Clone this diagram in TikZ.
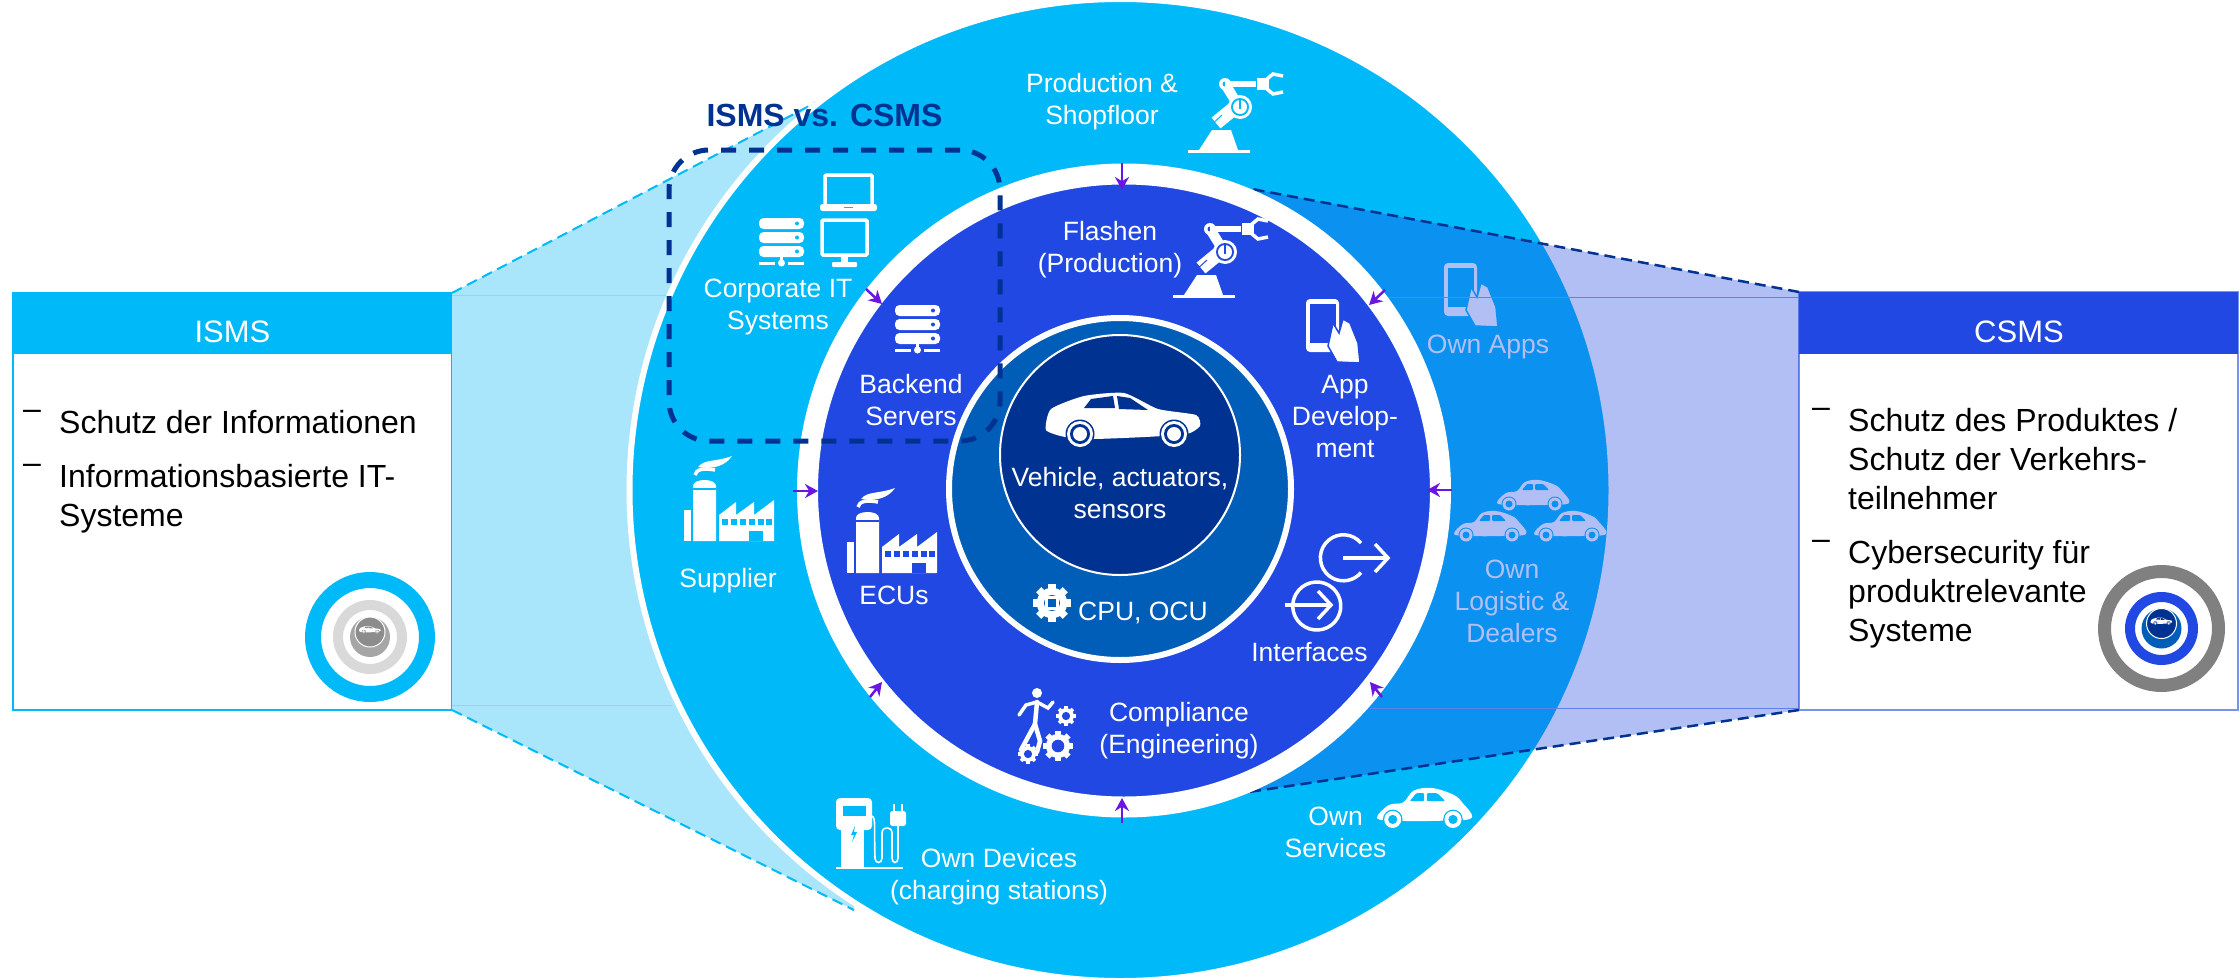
\documentclass[tikz,border=0pt]{standalone}
\usepackage{fontspec}
\setmainfont{Liberation Sans}
\usepackage{xcolor}
\usepackage{tikz}
\usetikzlibrary{arrows.meta}
\usetikzlibrary{shapes}
\definecolor{outerblue}{HTML}{00B9F8}
\definecolor{ringblue}{HTML}{2148E2}
\definecolor{tealblue}{HTML}{005EB8}
\definecolor{darkblue}{HTML}{003391}
\definecolor{wedgeblue}{HTML}{A9E6FB}
\definecolor{arrowpurple}{HTML}{6A16E0}
\tikzstyle{arrow} = [line width=2.5pt,-{Stealth[length=13pt,width=14pt]},color=arrowpurple]
\tikzstyle{ring} = [circle,inner sep=0pt,outer sep=0pt]
\tikzstyle{lbl} = [white,align=center,inner sep=0pt,font=\fontsize{26.5}{32}\selectfont]
\tikzstyle{head} = [white,inner sep=0pt,font=\fontsize{31}{36}\selectfont]
\tikzstyle{bullet} = [black,anchor=north west,align=left,inner sep=0pt,font=\fontsize{32}{39}\selectfont]
\tikzstyle{panel} = [rectangle,inner sep=0pt,outer sep=0pt,anchor=north west]
\tikzset{
  pics/robot/.style={code={
    \fill[white] (0,77) rectangle (62,80);
    \fill[white] (11,77) -- (24,57) -- (43,57) -- (50,77) -- cycle;
    \draw[white,line width=14pt] (28,50) -- (50,32);
    \draw[#1,line width=1pt] (22,53) -- (34,42);
    \draw[white,line width=10pt] (37,11) -- (50,32);
    \fill[white] (37,11) circle (6);
    \fill[#1] (37,11) circle (2.5);
    \draw[white,line width=6pt] (37,11) -- (68,11);
    \fill[white] (52,34) circle (12);
    \fill[#1] (52,34) circle (9);
    \fill[white] (52,34) circle (7);
    \fill[#1] (51,27) rectangle (53,36);
    \fill[white] (69,5) rectangle (78,17);
    \draw[white,line width=3.5pt] (95,3) -- (85,1) -- (79,6) -- (79,16) -- (85,21) -- (95,19);
  }},
  pics/laptop/.style={code={
    \draw[white,line width=3.5pt,rounded corners=1] (5,2) rectangle (52,33);
    \fill[white,rounded corners=2.5] (0,31) rectangle (57,38);
    \fill[#1] (24,33.5) rectangle (33,34.5);
  }},
  pics/monitor/.style={code={
    \draw[white,line width=3.5pt,rounded corners=1] (2,2) rectangle (47,37);
    \fill[white] (21,38) rectangle (28,44);
    \fill[white,rounded corners=1] (12,44) rectangle (37,49);
  }},
  pics/server/.style={code={
    \foreach \y in {0,14,28} {
      \fill[white,rounded corners=4.5] (0,\y) rectangle (45,\y+11);
      \fill[#1] (38,\y+5.5) circle (2);
    }
    \fill[white] (21,39) rectangle (24,46);
    \fill[white] (22.5,45) circle (3.5);
    \fill[white] (0,43.5) rectangle (16,47);
    \fill[white] (29,43.5) rectangle (45,47);
  }},
  pics/factory/.style={code={
    \fill[white] (0,54) rectangle (7,85);
    \fill[white] (9,85) -- (9,30) .. controls (9,22) and (32,22) .. (32,30) -- (32,85) -- cycle;
    \fill[#1] (9,32) rectangle (32,34);
    \draw[white,line width=3.5pt] (11,19) .. controls (12,13) and (20,12) .. (31,14);
    \fill[white] (14,11) .. controls (20,3) and (32,6) .. (48,0) .. controls (42,9) and (30,14) .. (14,11) -- cycle;
    \fill[white] (35,85) -- (35,59) -- (52,46) -- (52,59) -- (70,46) -- (70,59) -- (90,44) -- (90,85) -- cycle;
    \foreach \x in {38,47,56,65,74,82} \fill[#1] (\x,63) rectangle (\x+6,69);
    \fill[#1] (65,75) rectangle (79,85);
  }},
  pics/tablet/.style={code={
    \fill[white,rounded corners=4] (0,0) rectangle (33,53);
    \fill[#1] (3.5,5) rectangle (29.5,44);
    \filldraw[white,draw=#1,line width=1.5pt] (27,24) -- (33,34) -- (37,20) -- (44,24) -- (52,44) -- (54,64) -- (31,63) -- (22,47) -- cycle;
  }},
  pics/beetle/.style={code={
    \fill[white] plot[smooth cycle,tension=0.6] coordinates {(0,23) (9,13) (20,11) (28,2) (42,0) (58,5) (65,11) (72,23) (48,25) (15,25)};
    \fill[#1,rounded corners=1] (25,10) -- (30,4) -- (36,4) -- (36,10) -- cycle;
    \fill[#1,rounded corners=1] (38,4) -- (46,4) -- (52,10) -- (38,10) -- cycle;
    \foreach \x in {12,58} {
      \fill[#1] (\x,24) circle (7.5);
      \fill[white] (\x,24) circle (6.5);
      \fill[#1] (\x,24) circle (3.5);
    }
  }},
  pics/suv/.style={code={
    \fill[white] plot[smooth cycle,tension=0.35] coordinates {(1,37) (6,16) (39,3) (79,0) (113,16) (151,22) (155,33) (142,41) (100,44) (48,46) (20,44)};
    \fill[#1] (39,15) -- (46,6) -- (68,3) -- (70,15) -- cycle;
    \fill[#1] (72,3) -- (85,5) -- (103,17) -- (74,16) -- cycle;
    \foreach \x in {35,129} {
      \fill[#1] (\x,41) circle (14.5);
      \fill[white] (\x,41) circle (13);
      \fill[#1] (\x,41) circle (10);
      \fill[white] (\x,41) circle (7);
    }
  }},
  pics/gearw/.style={code={
    \foreach \a in {0,45,90,135}
      \fill[white,rotate=\a] (-2.5,-13) rectangle (2.5,13);
    \fill[white] (0,0) circle (10.5);
    \fill[#1] (0,0) circle (5.5);
  }},
  pics/station/.style={code={
    \fill[white,rounded corners=4] (0,0) rectangle (36,32);
    \fill[white] (5,20) rectangle (28,69);
    \fill[white] (0,68.5) rectangle (67,70.5);
    \fill[#1] (7,8) rectangle (30,18);
    \fill[#1] (19,28) -- (15,37) -- (18,37) -- (16,44) -- (21,34) -- (18,34) -- cycle;
    \draw[white,line width=1.6pt] (36,18) .. controls (40,20) and (38,30) .. (39,60) .. controls (39,66) and (46,66) .. (46,60) -- (46,35) .. controls (46,28) and (56,28) .. (56,35) -- (56,60) .. controls (56,66) and (62,66) .. (62,60) -- (62,28);
    \fill[white,rounded corners=2.5] (54,13) rectangle (70,28);
    \fill[white] (57,6) rectangle (59,13);
    \fill[white] (65,6) rectangle (67,13);
  }}
}
\begin{document}
\begin{tikzpicture}[x=1pt,y=-1pt]
    \useasboundingbox (0,0) rectangle (2239,980);
    \fill[white] (0,0) rectangle (2239,980);

    % side panels
    \node[panel,draw=outerblue,line width=1.2pt,fill=white,minimum width=439pt,minimum height=417pt] (ismsbox) at (13,293) {};
    \node[panel,fill=outerblue,minimum width=439pt,minimum height=61pt] (ismshead) at (13,293) {};
    \node[head] (ismslabel) at (232.5,332) {ISMS};
    \node[panel,draw=ringblue!60,line width=1.2pt,fill=white,minimum width=439pt,minimum height=418pt] (csmsbox) at (1799,292) {};
    \node[panel,fill=ringblue,minimum width=439pt,minimum height=62pt] (csmshead) at (1799,292) {};
    \node[head] (csmslabel) at (2019,332) {CSMS};

    % ISMS wedge
    \coordinate (ismstop) at (857,81);
    \coordinate (ismsbot) at (854,910);
    \fill[wedgeblue] (ismsbox.north east) -- (ismstop) -- (ismsbot) -- (ismsbox.south east) -- cycle;
    \draw[outerblue,line width=2pt,dashed,dash pattern=on 11pt off 6pt] (ismsbox.north east) -- (ismstop);
    \draw[outerblue,line width=2pt,dashed,dash pattern=on 11pt off 6pt] (ismsbox.south east) -- (ismsbot);
    \draw[outerblue!50,line width=1pt] (452,295) -- (670,295);
    \draw[outerblue!50,line width=1pt] (452,705) -- (672,705);

    % outer ring
    \node[ring,fill=outerblue,draw=white,line width=6pt,minimum size=982pt] (outerring) at (1120.5,490) {};

    \pic at (1188,73) {robot=outerblue};
    \node[lbl] (prodlabel) at (1102,102) {Production \&\\Shopfloor};
    \pic at (820,173) {laptop=outerblue};
    \pic at (820,218) {monitor=outerblue};
    \pic at (759,218) {server=outerblue};
    \node[lbl] (corplabel) at (778,307) {Corporate IT\\Systems};
    \pic at (684,456) {factory=outerblue};
    \node[lbl] (supplabel) at (728,581) {Supplier};
    \pic at (836,798) {station=outerblue};
    \node[lbl] (devlabel) at (999,877) {Own Devices\\(charging stations)};
    \pic[scale=1.31] at (1377,788) {beetle=outerblue};
    \node[lbl] (servlabel) at (1335.5,832) {Own\\Services};
    \pic at (1444,263) {tablet=outerblue};
    \node[lbl] (appslabel) at (1488,347) {Own Apps};
    \pic at (1497,480) {beetle=outerblue};
    \pic at (1454,511) {beetle=outerblue};
    \pic at (1534,511) {beetle=outerblue};
    \node[lbl] (logilabel) at (1512,601) {Own\\Logistic \&\\Dealers};

    % CSMS wedge
    \coordinate (csmstop) at (1252,189);
    \coordinate (csmsbot) at (1242,793);
    \fill[ringblue,opacity=0.35] (csmsbox.north west) -- (csmstop) -- (csmsbot) -- (csmsbox.south west) -- cycle;
    \draw[ringblue!70,line width=1pt] (1799,297) -- (1300,297);
    \draw[ringblue!70,line width=1pt] (1799,708) -- (1370,708);
    \draw[darkblue,line width=2.5pt,dash pattern=on 11pt off 6pt] (csmsbox.north west) -- (csmstop);
    \draw[darkblue,line width=2.5pt,dash pattern=on 11pt off 6pt] (csmsbox.south west) -- (csmsbot);

    % middle ring
    \node[ring,fill=ringblue,draw=white,line width=21pt,minimum size=633pt] (midring) at (1124,490.5) {};

    \pic at (1173,218) {robot=ringblue};
    \node[lbl] (flashlabel) at (1110,250) {Flashen\\(Production)};
    \pic at (895,305) {server=ringblue};
    \node[lbl] (backlabel) at (911,400) {Backend\\Servers};
    \pic at (847,488) {factory=ringblue};
    \node[lbl] (eculabel) at (894,595) {ECUs};
    \pic at (1306,299) {tablet=ringblue};
    \node[lbl] (applabel) at (1345,417) {App\\Develop-\\ment};
    \node[lbl] (iflabel) at (1309.5,652) {Interfaces};
    \node[lbl] (complabel) at (1179,731) {Compliance\\(Engineering)};

    % interfaces
    \draw[white,line width=3.5pt] (1296,594) arc (210:-210:24 and 24);
    \draw[white,line width=3.5pt] (1285,605) -- (1329,605);
    \draw[white,line width=3.5pt] (1318,591) -- (1331,605) -- (1318,619);
    \draw[white,line width=3.5pt] (1361,543) arc (-40:-320:23 and 23);
    \draw[white,line width=3.5pt] (1343,558) -- (1387,558);
    \draw[white,line width=3.5pt] (1375,544) -- (1388,558) -- (1375,572);

    % compliance icon
    \fill[white] (1037,693) circle (5);
    \draw[white,line width=4.5pt,line cap=round] (1037,702) -- (1035,724) -- (1040,741) -- (1037,752);
    \draw[white,line width=4.5pt,line cap=round] (1035,724) -- (1021,750);
    \draw[white,line width=3.5pt,line cap=round] (1019,715) -- (1026,705) -- (1037,702) -- (1048,708) -- (1053,702);
    \pic[scale=0.75] at (1066,716) {gearw=ringblue};
    \pic[scale=1.15] at (1058,746) {gearw=ringblue};
    \pic[scale=0.75] at (1028,754) {gearw=ringblue};

    % inner ring
    \node[ring,fill=tealblue,draw=white,line width=6pt,minimum size=342pt] (innerring) at (1120,489) {};
    \node[ring,fill=darkblue,draw=white,line width=2pt,minimum size=240pt] (corering) at (1120,455) {};
    \pic at (1045,393) {suv=darkblue};
    \node[lbl] (vehlabel) at (1120,493) {Vehicle, actuators,\\sensors};
    \pic[scale=1.45] at (1052,603) {gearw=tealblue};
    \fill[white] (1045,596) rectangle (1059,610);
    \fill[tealblue] (1048,599) rectangle (1056,607);
    \node[lbl] (cpulabel) at (1143,613) {CPU, OCU};

    % dashed frame
    \node[lbl] (frametitle) at (824.5,115) {\fontsize{32}{36}\selectfont\color{darkblue}\bfseries ISMS vs. CSMS};
    \node[rectangle,draw=darkblue,line width=5pt,rounded corners=40pt,dash pattern=on 15pt off 13pt,minimum width=331pt,minimum height=291pt,inner sep=0pt,outer sep=0pt] (frame) at (834.5,295.5) {};

    % purple arrows
    \foreach \n/\tx/\ty/\hx/\hy in {a/1122/163/1122/190,b/866/289/882/304,c/793/491/818/491,d/870/697/882/682,e/1122/823/1122/798,f/1382/697/1370/682,g/1452/490/1427/490,h/1385/290/1369/305}{
      \coordinate (t\n) at (\tx,\ty);
      \coordinate (h\n) at (\hx,\hy);
      \draw[arrow] (t\n) -- (h\n);
    }

    % panel text
    \node[bullet] (isdash1) at (23,410) {--};
    \node[bullet] (istext1) at (59,410) {Schutz der Informationen};
    \node[bullet] (isdash2) at (23,464) {--};
    \node[bullet] (istext2) at (59,464) {Informationsbasierte IT-\\Systeme};
    \node[bullet] (csdash1) at (1812,408) {--};
    \node[bullet] (cstext1) at (1848,408) {Schutz des Produktes /\\Schutz der Verkehrs-\\teilnehmer};
    \node[bullet] (csdash2) at (1812,540) {--};
    \node[bullet] (cstext2) at (1848,540) {Cybersecurity für\\produktrelevante\\Systeme};

    % small targets
    \node[ring,draw=outerblue,line width=16pt,minimum size=114pt] (ismsouter) at (370,637) {};
    \node[ring,draw=black!15,line width=10pt,minimum size=64pt] (ismsmid) at (370,637) {};
    \node[ring,fill=black!35,minimum size=40pt] (ismsin) at (370,637) {};
    \node[ring,fill=black!45,draw=white,line width=1pt,minimum size=30pt] (ismscore) at (370,632) {};
    \pic[scale=0.14] at (359,626) {suv=black!45};
    \node[ring,draw=black!50,line width=13pt,minimum size=114pt] (csmsouter) at (2161.5,628.5) {};
    \node[ring,draw=ringblue,line width=10pt,minimum size=63pt] (csmsmid) at (2161.5,628.5) {};
    \node[ring,fill=tealblue,minimum size=40pt] (csmsin) at (2161.5,628.5) {};
    \node[ring,fill=darkblue,draw=white,line width=1pt,minimum size=30pt] (csmscore) at (2161.5,623.5) {};
    \pic[scale=0.14] at (2150.5,617.5) {suv=darkblue};
\end{tikzpicture}
\end{document}
